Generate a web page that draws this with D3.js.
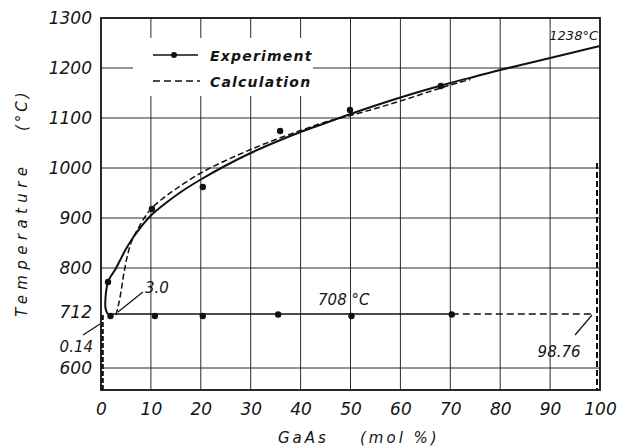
<!DOCTYPE html>
<html>
<head>
<meta charset="utf-8">
<script src="https://cdn.jsdelivr.net/npm/d3@7/dist/d3.min.js"></script>
<style>
  body { margin: 0; background: #fff; }
  svg text { font-family: "DejaVu Sans", sans-serif; font-style: italic; fill: #151515; }
</style>
</head>
<body>
<svg id="chart" width="619" height="446"></svg>
<script>
'use strict';

// axis ticks
var xTicks = [0, 10, 20, 30, 40, 50, 60, 70, 80, 90, 100];
var yTicks = [600, 712, 800, 900, 1000, 1100, 1200, 1300];
var xGrid = [10, 20, 30, 40, 50, 60, 70, 80, 90];
var yGrid = [600, 800, 900, 1000, 1100, 1200];

// liquidus drawn through experiment (solid)
var expCurveX = [1.9, 1.3, 0.9, 0.9, 1.1, 1.4, 2.0, 2.8, 3.8, 5.0, 6.5, 8.0, 10, 13, 16, 20, 25, 30, 35, 40, 45, 50, 55, 60, 65, 70, 75, 80, 85, 90, 95, 100];
var expCurveT = [704, 709, 720, 740, 758, 772, 784, 796, 815, 838, 862, 882, 905, 930, 952, 977, 1005, 1030, 1052, 1072, 1090, 1108, 1125, 1141, 1156, 1170, 1183, 1196, 1208, 1220, 1232, 1244];

// calculated liquidus (dashed)
var calcCurveX = [3.0, 3.5, 4.0, 4.6, 5.3, 6.2, 7.5, 9, 10, 12, 15, 20, 25, 30, 35, 40, 45, 50, 55, 60, 65, 70, 74];
var calcCurveT = [706, 726, 752, 790, 825, 855, 880, 905, 918, 936, 958, 990, 1015, 1037, 1057, 1075, 1092, 1105, 1119, 1134, 1150, 1166, 1177];

// measured liquidus points
var liqPointX = [1.4, 10.2, 20.4, 35.9, 49.9, 68.1];
var liqPointT = [772, 918, 962, 1074, 1116, 1164];

// measured eutectic points
var eutPointX = [1.9, 10.8, 20.4, 35.5, 50.2, 70.3];
var eutPointT = [704, 704, 704, 707, 704, 707];

// eutectic line: solid part then dashed part
var eutSolidX = [1.9, 70.3];
var eutDashX = [70.3, 98.9];
var eutT = 708;

// phase boundaries near the pure ends
var leftEdgeX = 0.3, leftEdgeT = [706, 556];
var rightEdgeX = 99.4, rightEdgeT = [1010, 556];

// annotations (data coordinates)
var notes = [
  { text: '3.0', x: 8.8, t: 750, anchor: 'start', size: 15, from: [3.4, 712], to: [8.4, 752] },
  { text: '0.14', x: -1.6, t: 632, anchor: 'end', size: 15, from: [-3.6, 666], to: [-0.2, 688] },
  { text: '98.76', x: 91.8, t: 622, anchor: 'middle', size: 15, from: [95, 666], to: [98.4, 706] },
  { text: '708 \u00b0C', x: 43.5, t: 726, anchor: 'start', size: 15 },
  { text: '1238\u00b0C', x: 99.6, t: 1256, anchor: 'end', size: 13 }
];

var legendItems = ['Experiment', 'Calculation'];

var svg = d3.select('#chart');
var margin = { left: 101, right: 19, top: 18, bottom: 56 };
var width = 619 - margin.left - margin.right;
var height = 446 - margin.top - margin.bottom;

var x = d3.scaleLinear().domain([0, 100]).range([margin.left, margin.left + width]);
var y = d3.scaleLinear().domain([556, 1300]).range([margin.top + height, margin.top]);

svg.append('rect').attr('width', 619).attr('height', 446).attr('fill', '#fff');

// grid
var grid = svg.append('g').attr('stroke', '#2a2a2a').attr('stroke-width', 1);
grid.selectAll('line.gx').data(xGrid).enter().append('line')
  .attr('x1', function(d) { return x(d); }).attr('x2', function(d) { return x(d); })
  .attr('y1', y.range()[0]).attr('y2', y.range()[1]);
grid.selectAll('line.gy').data(yGrid).enter().append('line')
  .attr('y1', function(d) { return y(d); }).attr('y2', function(d) { return y(d); })
  .attr('x1', x.range()[0]).attr('x2', x.range()[1]);

// legend box hides the grid behind it
var lg = svg.append('g');
lg.append('rect').attr('x', 133).attr('y', 38).attr('width', 180).attr('height', 58).attr('fill', '#fff');

// frame
svg.append('rect')
  .attr('x', x(0)).attr('y', y(1300))
  .attr('width', x(100) - x(0)).attr('height', y(556) - y(1300))
  .attr('fill', 'none').attr('stroke', '#111').attr('stroke-width', 1.8);

// axes (labels only)
var xAxis = d3.axisBottom(x).tickValues(xTicks).tickSize(0).tickPadding(0).tickFormat(d3.format('d'));
var gx = svg.append('g').attr('transform', 'translate(0,' + (y(556) + 25) + ')').call(xAxis);
gx.select('.domain').remove();
gx.selectAll('text').attr('font-size', 17).attr('font-family', null).attr('fill', null).attr('dy', 0);

var yAxis = d3.axisLeft(y).tickValues(yTicks).tickSize(0).tickPadding(0).tickFormat(d3.format('d'));
var gy = svg.append('g').attr('transform', 'translate(' + (x(0) - 9) + ',0)').call(yAxis);
gy.select('.domain').remove();
gy.selectAll('text').attr('font-size', 17).attr('font-family', null).attr('fill', null);

// axis titles
svg.append('text').attr('x', 278).attr('y', 443).attr('font-size', 15)
  .attr('letter-spacing', 3).text('GaAs');
svg.append('text').attr('x', 360).attr('y', 443).attr('font-size', 15)
  .attr('letter-spacing', 3).text('(mol %)');
svg.append('text').attr('transform', 'translate(27,317) rotate(-90)').attr('font-size', 15)
  .attr('letter-spacing', 5.4).text('Temperature');
svg.append('text').attr('transform', 'translate(27,131) rotate(-90)').attr('font-size', 15)
  .attr('letter-spacing', 3).text('(\u00b0C)');

function pairs(xs, ts) {
  return xs.map(function(d, i) { return [d, ts[i]]; });
}

var line = d3.line()
  .x(function(d) { return x(d[0]); })
  .y(function(d) { return y(d[1]); });
var smooth = d3.line()
  .x(function(d) { return x(d[0]); })
  .y(function(d) { return y(d[1]); })
  .curve(d3.curveCatmullRom.alpha(0.5));

// curves
svg.append('path').datum(pairs(calcCurveX, calcCurveT))
  .attr('d', smooth).attr('fill', 'none').attr('stroke', '#111')
  .attr('stroke-width', 1.5).attr('stroke-dasharray', '6,3');
svg.append('path').datum(pairs(expCurveX, expCurveT))
  .attr('d', smooth).attr('fill', 'none').attr('stroke', '#111').attr('stroke-width', 2);

// eutectic line
svg.append('path').datum(eutSolidX.map(function(d) { return [d, eutT]; }))
  .attr('d', line).attr('stroke', '#111').attr('stroke-width', 1.6);
svg.append('path').datum(eutDashX.map(function(d) { return [d, eutT]; }))
  .attr('d', line).attr('stroke', '#111').attr('stroke-width', 1.6).attr('stroke-dasharray', '7,4');

// end boundaries
svg.append('path').datum(leftEdgeT.map(function(d) { return [leftEdgeX, d]; }))
  .attr('d', line).attr('stroke', '#111').attr('stroke-width', 2.6).attr('stroke-dasharray', '5,2');
svg.append('path').datum(rightEdgeT.map(function(d) { return [rightEdgeX, d]; }))
  .attr('d', line).attr('stroke', '#111').attr('stroke-width', 2).attr('stroke-dasharray', '6,3');

// points
svg.append('g').selectAll('circle').data(pairs(liqPointX, liqPointT).concat(pairs(eutPointX, eutPointT)))
  .enter().append('circle')
  .attr('cx', function(d) { return x(d[0]); })
  .attr('cy', function(d) { return y(d[1]); })
  .attr('r', 3.2).attr('fill', '#111');

// annotations
notes.forEach(function(n) {
  svg.append('text').attr('x', x(n.x)).attr('y', y(n.t))
    .attr('text-anchor', n.anchor).attr('font-size', n.size).text(n.text);
  if (n.from) {
    svg.append('path').datum([n.from, n.to]).attr('d', line)
      .attr('stroke', '#111').attr('stroke-width', 1.2);
  }
});

// legend
lg.append('line').attr('x1', 153).attr('x2', 198).attr('y1', 55).attr('y2', 55)
  .attr('stroke', '#111').attr('stroke-width', 1.6);
lg.append('circle').attr('cx', 174).attr('cy', 55).attr('r', 3).attr('fill', '#111');
lg.append('line').attr('x1', 153).attr('x2', 200).attr('y1', 81).attr('y2', 81)
  .attr('stroke', '#111').attr('stroke-width', 1.6).attr('stroke-dasharray', '7,4');
lg.selectAll('text').data(legendItems).enter().append('text')
  .attr('x', 210).attr('y', function(d, i) { return 61 + i * 26; })
  .attr('font-size', 14).attr('font-weight', 'bold').attr('letter-spacing', 1.2)
  .text(function(d) { return d; });
</script>
</body>
</html>
